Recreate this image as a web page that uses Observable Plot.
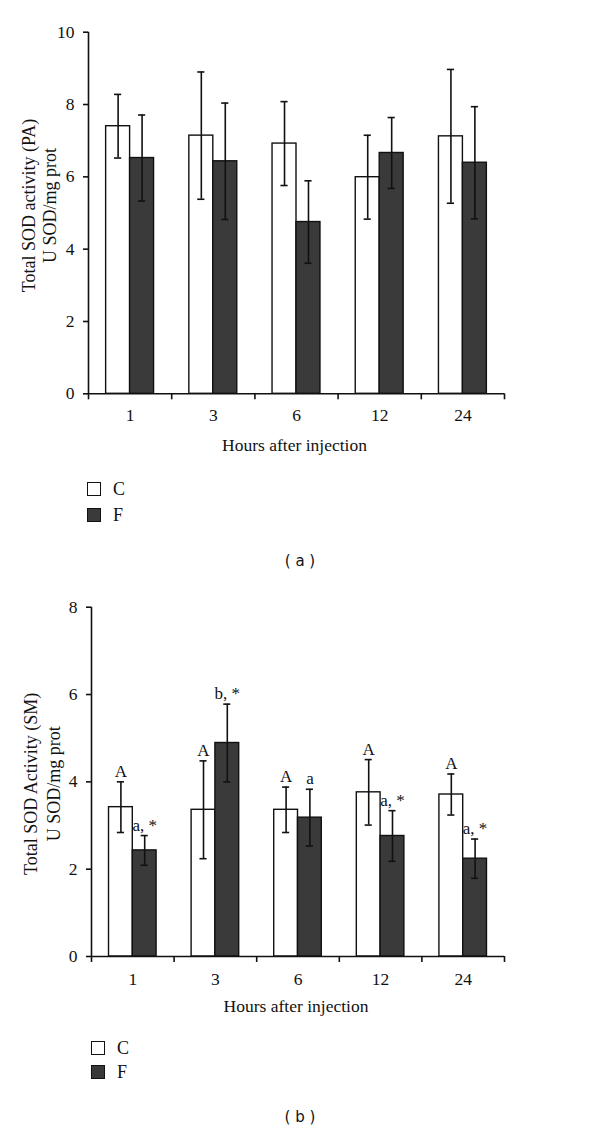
<!DOCTYPE html>
<html>
<head>
<meta charset="utf-8">
<script src="https://cdn.jsdelivr.net/npm/d3@7"></script>
<script src="https://cdn.jsdelivr.net/npm/@observablehq/plot@0.6"></script>
<style>
  html, body { margin: 0; padding: 0; background: #fff; }
  body { position: relative; width: 600px; height: 1134px; overflow: hidden; }
  .panel { position: absolute; left: 0; }
  .panel svg { background: transparent !important; overflow: visible; }
  .lg-box { position: absolute; width: 12px; height: 12px; border: 1.5px solid #111; box-sizing: content-box; }
  .lg-txt { position: absolute; font-family: "Liberation Serif", serif; font-size: 18px; color: #111; line-height: 15px; }
  .cap { position: absolute; left: 0; width: 600px; text-align: center; font-family: "DejaVu Sans", sans-serif; font-size: 15px; color: #111; white-space: pre; }
</style>
</head>
<body>
<script>
// ---------------- data ----------------
const hours = ["1", "3", "6", "12", "24"];
const series = ["C", "F"];

// Panel (a): Total SOD activity (PA)
const paC    = [7.40, 7.14, 6.92, 5.99, 7.12];
const paCErr = [0.88, 1.76, 1.16, 1.16, 1.85];
const paF    = [6.52, 6.43, 4.75, 6.66, 6.39];
const paFErr = [1.19, 1.61, 1.14, 0.98, 1.55];
const paTicks = [0, 2, 4, 6, 8, 10];

// Panel (b): Total SOD Activity (SM)
const smC    = [3.42, 3.36, 3.36, 3.76, 3.71];
const smCErr = [0.58, 1.12, 0.52, 0.75, 0.47];
const smF    = [2.43, 4.89, 3.18, 2.76, 2.24];
const smFErr = [0.34, 0.89, 0.65, 0.58, 0.45];
const smCLabels = ["A", "A", "A", "A", "A"];
const smFLabels = ["a, *", "b, *", "a", "a, *", "a, *"];
const smTicks = [0, 2, 4, 6, 8];

const xLabel = "Hours after injection";
const fills = {C: "#ffffff", F: "#3a3a3a"};

// ---------------- helpers ----------------
const BW = 0.288;     // bar width as a fraction of a group
const CAP = 0.043;    // half-width of error caps

function rowsFor(cVals, cErr, fVals, fErr, cLab, fLab) {
  const rows = [];
  hours.forEach((h, i) => {
    rows.push({hour: h, s: "C", v: cVals[i], e: cErr[i], lab: cLab ? cLab[i] : "",
               x1: i + 0.5 - BW, x2: i + 0.5, xc: i + 0.5 - BW / 2});
    rows.push({hour: h, s: "F", v: fVals[i], e: fErr[i], lab: fLab ? fLab[i] : "",
               x1: i + 0.5, x2: i + 0.5 + BW, xc: i + 0.5 + BW / 2});
  });
  return rows;
}

function chart(cfg) {
  const rows = rowsFor(cfg.c, cfg.ce, cfg.f, cfg.fe, cfg.cl, cfg.fl);
  const marks = [
    Plot.rectY(rows, {x1: "x1", x2: "x2", y: "v", fill: d => fills[d.s], stroke: "#111", strokeWidth: 1.4}),
    Plot.ruleX(rows, {x: "xc", y1: d => d.v - d.e, y2: d => d.v + d.e, stroke: "#111", strokeWidth: 1.6}),
    Plot.ruleY(rows, {y: d => d.v + d.e, x1: d => d.xc - CAP, x2: d => d.xc + CAP, stroke: "#111", strokeWidth: 1.6}),
    Plot.ruleY(rows, {y: d => d.v - d.e, x1: d => d.xc - CAP, x2: d => d.xc + CAP, stroke: "#111", strokeWidth: 1.6}),
    Plot.ruleX([0], {y1: cfg.ticks[0], y2: cfg.ticks[cfg.ticks.length - 1], stroke: "#111", strokeWidth: 1.6}),
    Plot.ruleY([0], {x1: 0, x2: hours.length, stroke: "#111", strokeWidth: 1.6}),
    Plot.axisY({ticks: cfg.ticks, tickSize: 5, tickPadding: 9, fontSize: 17.5, strokeWidth: 1.6, label: null}),
    Plot.axisX({ticks: d3.range(hours.length + 1), tickSize: 6, tickFormat: () => "", strokeWidth: 1.6, label: null}),
    Plot.axisX({ticks: hours.map((h, i) => i + 0.5), tickSize: 0, tickPadding: cfg.xPad, fontSize: 17.5,
                tickFormat: d => hours[Math.floor(d)], label: null}),
    Plot.text([xLabel], {frameAnchor: "bottom", dy: cfg.xLabelDy, dx: -2, lineAnchor: "bottom", fontSize: 17.5, text: d => d}),
    Plot.text([cfg.yLabel], {frameAnchor: "left", rotate: -90, dx: cfg.yLabelDx, dy: cfg.yLabelDy,
                text: d => d, lineAnchor: "middle", textAnchor: "middle", fontSize: 18, lineHeight: cfg.lh})
  ];
  if (cfg.cl) {
    marks.push(Plot.text(rows, {x: "xc", y: d => d.v + d.e, text: "lab", lineAnchor: "bottom", dy: -5, fontSize: 17}));
  }
  return Plot.plot({
    width: 600,
    height: cfg.height,
    marginLeft: cfg.ml,
    marginRight: 96,
    marginTop: cfg.mt,
    marginBottom: cfg.mb,
    x: {type: "linear", domain: [0, hours.length]},
    y: {domain: [cfg.ticks[0], cfg.ticks[cfg.ticks.length - 1]]},
    style: {fontFamily: "Liberation Serif, serif", fontSize: "17px", color: "#111", background: "transparent"},
    marks
  });
}

function place(node, top) {
  const d = document.createElement("div");
  d.className = "panel";
  d.style.top = top + "px";
  d.appendChild(node);
  document.body.appendChild(d);
}

function legend(left, top, gap) {
  series.forEach((s, i) => {
    const b = document.createElement("div");
    b.className = "lg-box";
    b.style.left = left + "px";
    b.style.top = (top + i * gap) + "px";
    b.style.background = fills[s];
    document.body.appendChild(b);
    const t = document.createElement("div");
    t.className = "lg-txt";
    t.style.left = (left + 26) + "px";
    t.style.top = (top + i * gap) + "px";
    t.textContent = s;
    document.body.appendChild(t);
  });
}

function caption(text, top) {
  const c = document.createElement("div");
  c.className = "cap";
  c.style.top = top + "px";
  c.textContent = text;
  document.body.appendChild(c);
}

// ---------------- panel (a) ----------------
place(chart({
  c: paC, ce: paCErr, f: paF, fe: paFErr, ticks: paTicks,
  height: 470, mt: 31.7, mb: 76.7, ml: 88, xPad: 15,
  xLabelDy: 56.7,
  yLabel: "Total SOD activity (PA)\nU SOD/mg prot", yLabelDx: -50, yLabelDy: -7.5, lh: 1.18
}), 0);
legend(87, 482, 26);
caption("( a )", 552);

// ---------------- panel (b) ----------------
place(chart({
  c: smC, ce: smCErr, f: smF, fe: smFErr, cl: smCLabels, fl: smFLabels, ticks: smTicks,
  height: 450, mt: 31.7, mb: 69, ml: 91, xPad: 16,
  xLabelDy: 55.7,
  yLabel: "Total SOD Activity (SM)\nU SOD/mg prot", yLabelDx: -50, yLabelDy: 2, lh: 1.24
}), 575);
legend(91, 1041, 24);
caption("( b )", 1108);
</script>
</body>
</html>
